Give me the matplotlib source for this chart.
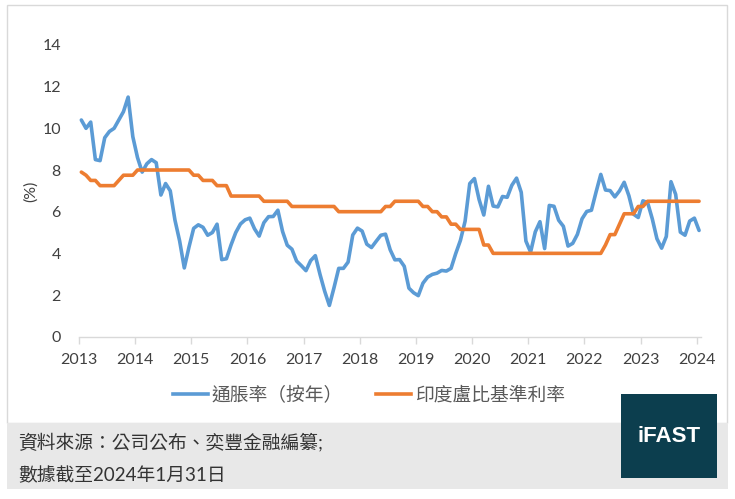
import numpy as np
import matplotlib.pyplot as plt
from matplotlib.patches import Rectangle
from matplotlib.lines import Line2D

W, H = 735, 499

years = list(range(2013, 2025))

# CPI inflation yoy (%), monthly Jan 2013 - Jan 2024
cpi = [10.4, 10.0, 10.3, 8.5, 8.45, 9.55, 9.85, 10.0, 10.4, 10.8, 11.5, 9.6,
       8.6, 7.9, 8.3, 8.5, 8.35, 6.8, 7.35, 7.0, 5.6, 4.6, 3.3, 4.3,
       5.2, 5.37, 5.25, 4.87, 5.0, 5.4, 3.7, 3.74, 4.41, 5.0, 5.41, 5.61,
       5.69, 5.18, 4.83, 5.47, 5.76, 5.77, 6.07, 5.05, 4.39, 4.2, 3.63, 3.41,
       3.17, 3.65, 3.89, 2.99, 2.18, 1.5, 2.36, 3.28, 3.28, 3.58, 4.88, 5.21,
       5.07, 4.44, 4.28, 4.58, 4.87, 4.92, 4.17, 3.69, 3.7, 3.38, 2.33, 2.11,
       1.97, 2.57, 2.86, 2.99, 3.05, 3.18, 3.15, 3.28, 3.99, 4.62, 5.54, 7.35,
       7.59, 6.58, 5.84, 7.22, 6.27, 6.23, 6.73, 6.69, 7.27, 7.61, 6.93, 4.59,
       4.06, 5.03, 5.52, 4.23, 6.3, 6.26, 5.59, 5.3, 4.35, 4.48, 4.91, 5.66,
       6.01, 6.07, 6.95, 7.79, 7.04, 7.01, 6.71, 7.0, 7.41, 6.77, 5.88, 5.72,
       6.52, 6.44, 5.66, 4.7, 4.25, 4.81, 7.44, 6.83, 5.02, 4.87, 5.55, 5.69,
       5.1]

# benchmark (repo) rate (%), month end
repo = [7.9, 7.75, 7.5, 7.5, 7.25, 7.25, 7.25, 7.25, 7.5, 7.75, 7.75, 7.75,
        8.0, 8.0, 8.0, 8.0, 8.0, 8.0, 8.0, 8.0, 8.0, 8.0, 8.0, 8.0,
        7.75, 7.75, 7.5, 7.5, 7.5, 7.25, 7.25, 7.25, 6.75, 6.75, 6.75, 6.75,
        6.75, 6.75, 6.75, 6.5, 6.5, 6.5, 6.5, 6.5, 6.5, 6.25, 6.25, 6.25,
        6.25, 6.25, 6.25, 6.25, 6.25, 6.25, 6.25, 6.0, 6.0, 6.0, 6.0, 6.0,
        6.0, 6.0, 6.0, 6.0, 6.0, 6.25, 6.25, 6.5, 6.5, 6.5, 6.5, 6.5,
        6.5, 6.25, 6.25, 6.0, 6.0, 5.75, 5.75, 5.4, 5.4, 5.15, 5.15, 5.15,
        5.15, 5.15, 4.4, 4.4, 4.0, 4.0, 4.0, 4.0, 4.0, 4.0, 4.0, 4.0,
        4.0, 4.0, 4.0, 4.0, 4.0, 4.0, 4.0, 4.0, 4.0, 4.0, 4.0, 4.0,
        4.0, 4.0, 4.0, 4.0, 4.4, 4.9, 4.9, 5.4, 5.9, 5.9, 5.9, 6.25,
        6.25, 6.5, 6.5, 6.5, 6.5, 6.5, 6.5, 6.5, 6.5, 6.5, 6.5, 6.5,
        6.5]

labels = ['通脹率（按年）', '印度盧比基準利率']
colors = ['#5B9BD5', '#ED7D31']
yticks = [0, 2, 4, 6, 8, 10, 12, 14]

x = 2013 + (np.arange(len(cpi)) + 0.5) / 12


def fx(px):
    return px / W


def fy(py):
    return 1 - py / H


cjk = ['Lato', 'Noto Sans CJK TC']

fig = plt.figure(figsize=(W / 100, H / 100), dpi=100)
fig.patch.set_facecolor('white')

# chart frame and footer band
fig.add_artist(Rectangle((fx(6.5), fy(422.5)), fx(726.5) - fx(6.5), fy(5) - fy(422.5),
                         transform=fig.transFigure, facecolor='white',
                         edgecolor='#d9d9d9', lw=1, zorder=-2))
fig.add_artist(Rectangle((fx(6.5), fy(488.5)), fx(728) - fx(6.5), fy(422.5) - fy(488.5),
                         transform=fig.transFigure, facecolor='#e8e8e8',
                         edgecolor='none', zorder=-2))

ax = fig.add_axes([fx(79), fy(336.7), (701.4 - 79) / W, (336.7 - 45) / H])
ax.patch.set_alpha(0)

ax.plot(x, cpi, color=colors[0], lw=2.6, clip_on=False,
        solid_joinstyle='round', solid_capstyle='round')
ax.plot(x, repo, color=colors[1], lw=2.6, clip_on=False,
        solid_joinstyle='round', solid_capstyle='round')

ax.set_xlim(2013, 2013 + len(cpi) / 12)
ax.set_ylim(0, 14)
ax.set_xticks(years)
ax.set_xticklabels([str(y) for y in years])
ax.set_yticks(yticks)
ax.set_yticklabels([str(v) for v in yticks])

for s in ['left', 'top', 'right']:
    ax.spines[s].set_visible(False)
ax.spines['bottom'].set_color('#d9d9d9')
ax.spines['bottom'].set_linewidth(1)
ax.tick_params(axis='x', direction='out', length=5, width=1, color='#d9d9d9',
               labelcolor='#404040', labelsize=11.5, pad=7)
ax.tick_params(axis='y', length=0, labelcolor='#404040', labelsize=11.5, pad=13)
for t in ax.get_xticklabels() + ax.get_yticklabels():
    t.set_family('Lato')

fig.text(fx(31), fy(191), '(%)', rotation=90, ha='center', va='center',
         fontsize=11.5, color='#404040', family='Lato')

handles = [Line2D([], [], color=c, lw=2.6) for c in colors]
fig.legend(handles, labels, loc='center', bbox_to_anchor=(fx(369), fy(395)),
           ncol=2, frameon=False, prop={'family': cjk, 'size': 13.5},
           handlelength=1.87, handletextpad=0.2, columnspacing=1.75,
           labelcolor='#595959', borderpad=0)

fig.text(fx(18), fy(442), '資料來源：公司公布、奕豐金融編纂;', va='center', ha='left',
         fontsize=13.5, color='#333333', family=cjk)
fig.text(fx(18), fy(475), '數據截至2024年1月31日', va='center', ha='left',
         fontsize=13.5, color='#333333', family=cjk)

# logo box
fig.add_artist(Rectangle((fx(621), fy(478.3)), fx(717) - fx(621), fy(394) - fy(478.3),
                         transform=fig.transFigure, facecolor='#0C3E4E',
                         edgecolor='none', zorder=2))
fig.text(fx(669), fy(436), 'iFAST', ha='center', va='center', color='white',
         fontsize=16, fontweight='bold', family='Liberation Sans', zorder=3)

fig.savefig('out.png', dpi=100)
